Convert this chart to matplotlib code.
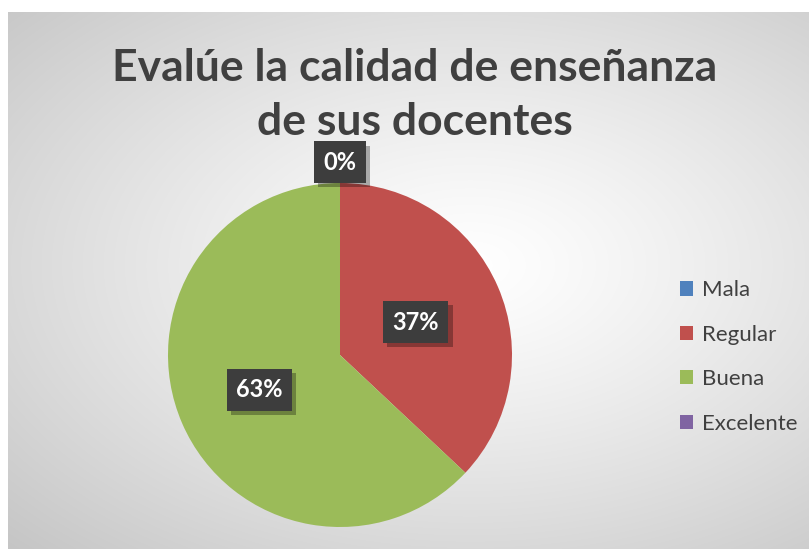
import numpy as np
import matplotlib.pyplot as plt
import matplotlib.patheffects as pe

# Data
categories = ['Mala', 'Regular', 'Buena', 'Excelente']
values = [0, 37, 63, 0]
colors = ['#4f81bd', '#c0504d', '#9bbb59', '#8064a2']
title = 'Evalúe la calidad de enseñanza\nde sus docentes'

W, H = 809, 551
plt.rcParams['font.family'] = ['Lato', 'DejaVu Sans']

fig = plt.figure(figsize=(W / 100, H / 100), dpi=100)
fig.patch.set_facecolor('white')

# chart area with radial gradient (pixel box: x 8..809, y 12..549 from top)
x0, x1, y0, y1 = 8, 809, 12, 549
bg = fig.add_axes([x0 / W, 1 - y1 / H, (x1 - x0) / W, (y1 - y0) / H])
xx, yy = np.meshgrid(np.arange(x0, x1), np.arange(y0, y1))
cx, cy = 470, 265
dx = (xx - cx) / max(cx - x0, x1 - cx)
dy = (yy - cy) / max(cy - y0, y1 - cy)
t = np.clip(np.sqrt(dx ** 2 + dy ** 2) / np.sqrt(2), 0, 1)
shade = (255 - 58 * t ** 1.2) / 255
bg.imshow(np.dstack([shade] * 3), aspect='auto', extent=[0, 1, 0, 1])
bg.set_axis_off()

fig.text(415 / W, 1 - 95 / H, title, ha='center', va='center', fontsize=32,
         fontweight='bold', color='#404040', linespacing=1.4)

# pie: center (340, 355) px, radius 172 px
r = 172
pcx, pcy = 340, 355
ax = fig.add_axes([(pcx - r) / W, 1 - (pcy + r) / H, 2 * r / W, 2 * r / H])
wedges, _ = ax.pie(values, colors=colors, startangle=90, counterclock=False,
                   radius=1, wedgeprops=dict(linewidth=0))
ax.set_xlim(-1, 1)
ax.set_ylim(-1, 1)
ax.set_axis_off()

# data labels
label_dist = [1.12, 0.48, 0.51, None]
for w, v, d in zip(wedges, values, label_dist):
    if d is None:
        continue
    ang = np.deg2rad((w.theta1 + w.theta2) / 2)
    lx, ly = d * np.cos(ang), d * np.sin(ang)
    lbl = ax.text(lx, ly, f'{v:.0f}%', ha='center', va='center', fontsize=17,
                  fontweight='bold', color='white', clip_on=False,
                  bbox=dict(boxstyle='square,pad=0.4', fc='#3d3d3d', ec='none', lw=0))
    lbl.get_bbox_patch().set_path_effects(
        [pe.SimplePatchShadow(offset=(3, -3), shadow_rgbFace='black', alpha=0.3),
         pe.Normal()])

# legend
leg = fig.legend(wedges, categories, loc='center left',
                 bbox_to_anchor=(680 / W, 1 - 357 / H), frameon=False,
                 fontsize=16, labelspacing=1.1, handlelength=0.6,
                 handleheight=0.6, handletextpad=0.4, borderpad=0,
                 borderaxespad=0)
for text in leg.get_texts():
    text.set_color('#404040')

fig.savefig('out.png', dpi=100)
